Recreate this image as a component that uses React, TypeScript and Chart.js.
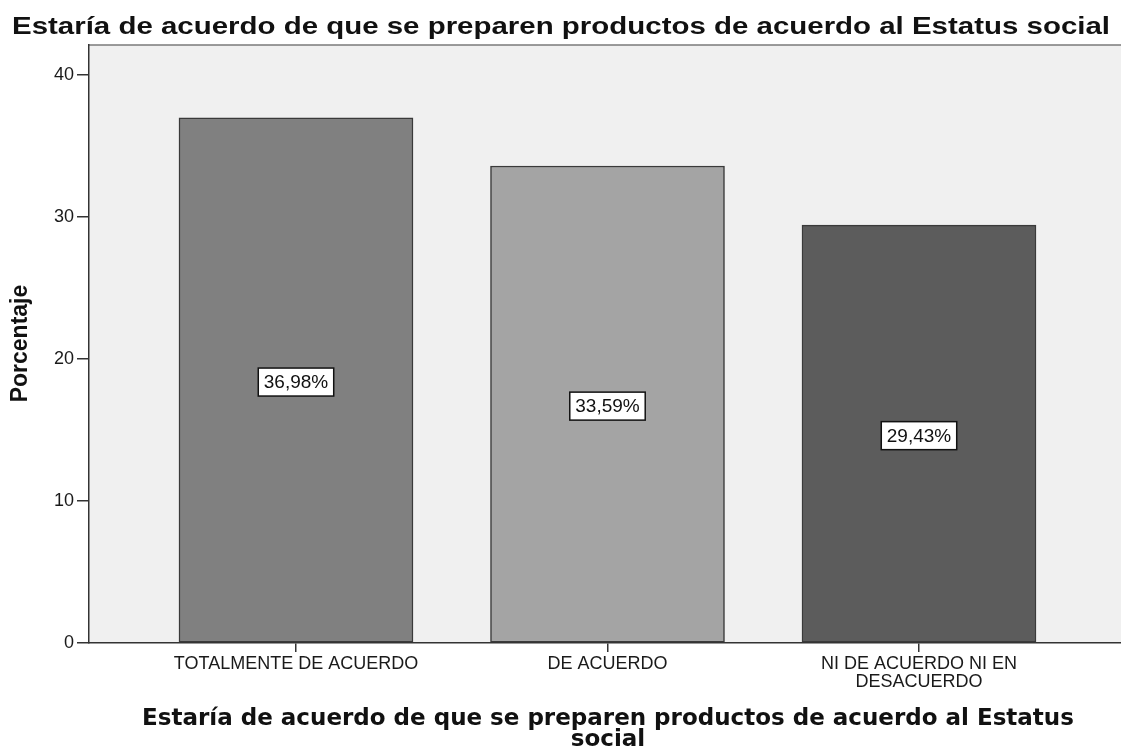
import React, { useEffect, useRef } from "react";
import { Chart, registerables } from "chart.js";

Chart.register(...registerables);

const chartTitle = "Estaría de acuerdo de que se preparen productos de acuerdo al Estatus social";
const xAxisTitleLines = ["Estaría de acuerdo de que se preparen productos de acuerdo al Estatus", "social"];
const yAxisTitle = "Porcentaje";
const categories: (string | string[])[] = [
  "TOTALMENTE DE ACUERDO",
  "DE ACUERDO",
  ["NI DE ACUERDO NI EN", "DESACUERDO"],
];
const percentages = [36.98, 33.59, 29.43];
const barColors = ["#808080", "#a4a4a4", "#5c5c5c"];
const yTicks = [0, 10, 20, 30, 40];

const SANS = '"Liberation Sans", Arial, sans-serif';
const DEJAVU = '"DejaVu Sans", Verdana, sans-serif';

const decorPlugin = {
  id: "decor",
  beforeDraw(chart: any) {
    const { ctx, chartArea } = chart;
    ctx.save();
    ctx.fillStyle = "#ffffff";
    ctx.fillRect(0, 0, chart.width, chart.height);
    ctx.fillStyle = "#f0f0f0";
    ctx.fillRect(chartArea.left, chartArea.top, chartArea.right - chartArea.left, chartArea.bottom - chartArea.top);
    ctx.strokeStyle = "#7a7a7a";
    ctx.lineWidth = 1.5;
    ctx.beginPath();
    ctx.moveTo(chartArea.left, chartArea.top);
    ctx.lineTo(chartArea.right, chartArea.top);
    ctx.stroke();
    ctx.restore();
  },
  afterDatasetsDraw(chart: any) {
    const { ctx } = chart;
    const meta = chart.getDatasetMeta(0);
    ctx.save();
    ctx.font = `19px ${SANS}`;
    ctx.textAlign = "center";
    ctx.textBaseline = "middle";
    meta.data.forEach((bar: any, i: number) => {
      const label = percentages[i].toFixed(2).replace(".", ",") + "%";
      const cx = bar.x;
      const cy = (bar.y + bar.base) / 2 + 2;
      const w = ctx.measureText(label).width + 11;
      const h = 28;
      ctx.fillStyle = "#ffffff";
      ctx.fillRect(cx - w / 2, cy - h / 2, w, h);
      ctx.strokeStyle = "#111111";
      ctx.lineWidth = 1.5;
      ctx.strokeRect(cx - w / 2, cy - h / 2, w, h);
      ctx.fillStyle = "#111111";
      ctx.fillText(label, cx, cy + 1);
    });
    ctx.restore();
  },
  afterDraw(chart: any) {
    const { ctx, chartArea } = chart;
    ctx.save();
    // main title: stretched horizontally to span 12..1110 like the reference
    ctx.fillStyle = "#111111";
    ctx.font = `bold 24px ${SANS}`;
    ctx.textAlign = "left";
    ctx.textBaseline = "alphabetic";
    const target = 1098;
    const startX = 12;
    const w = ctx.measureText(chartTitle).width;
    ctx.save();
    ctx.translate(startX, 34);
    ctx.scale(target / w, 1);
    ctx.fillText(chartTitle, 0, 0);
    ctx.restore();
    // x axis title
    ctx.font = `bold 23px ${DEJAVU}`;
    ctx.textAlign = "center";
    const cx = (chartArea.left + chartArea.right) / 2 + 3;
    ctx.fillText(xAxisTitleLines[0], cx, 725);
    ctx.fillText(xAxisTitleLines[1], cx, 746);
    // y axis title
    ctx.font = `bold 23px ${SANS}`;
    ctx.translate(27, 343.5);
    ctx.rotate(-Math.PI / 2);
    ctx.fillText(yAxisTitle, 0, 0);
    ctx.restore();
  },
};

export default function App() {
  const canvasRef = useRef<HTMLCanvasElement | null>(null);

  useEffect(() => {
    document.body.style.margin = "0";
    const canvas = canvasRef.current;
    if (!canvas) return;
    const chart = new Chart(canvas, {
      type: "bar",
      data: {
        datasets: [
          {
            data: percentages.map((v, i) => ({ x: i, y: v })),
            backgroundColor: barColors,
            borderColor: "#3a3a3a",
            borderWidth: 1.5,
            borderSkipped: false,
            barThickness: 234,
          },
        ],
      },
      options: {
        responsive: false,
        animation: false,
        devicePixelRatio: 1,
        layout: { padding: { top: 45, left: 0, right: 0, bottom: 0 } },
        plugins: {
          legend: { display: false },
          tooltip: { enabled: false },
          title: { display: false },
        },
        scales: {
          x: {
            type: "linear",
            min: -0.6645,
            max: 2.6485,
            offset: false,
            afterBuildTicks: (scale: any) => {
              scale.ticks = categories.map((_, i) => ({ value: i }));
            },
            afterFit: (scale: any) => {
              scale.height = 108;
            },
            ticks: {
              autoSkip: false,
              maxRotation: 0,
              minRotation: 0,
              padding: 3,
              color: "#1a1a1a",
              font: { family: SANS, size: 18, lineHeight: 1.0 },
              callback: (v: any) => categories[Number(v)] as any,
            },
            grid: {
              offset: false,
              drawOnChartArea: false,
              drawTicks: true,
              tickLength: 9,
              color: "#333333",
              lineWidth: 1.5,
            },
            border: { display: true, color: "#333333", width: 1.5 },
          },
          y: {
            min: 0,
            max: 42.11,
            afterBuildTicks: (scale: any) => {
              scale.ticks = yTicks.map((v) => ({ value: v }));
            },
            afterFit: (scale: any) => {
              scale.width = 89;
            },
            ticks: {
              padding: 3,
              color: "#1a1a1a",
              font: { family: SANS, size: 18 },
            },
            grid: {
              drawOnChartArea: false,
              drawTicks: true,
              tickLength: 12,
              color: "#333333",
              lineWidth: 1.5,
            },
            border: { display: true, color: "#333333", width: 1.5 },
          },
        },
      },
      plugins: [decorPlugin],
    } as any);
    return () => chart.destroy();
  }, []);

  return (
    <div style={{ width: 1121, height: 751, position: "relative" }}>
      <canvas ref={canvasRef} width={1121} height={751} style={{ width: 1121, height: 751, display: "block" }} />
    </div>
  );
}
